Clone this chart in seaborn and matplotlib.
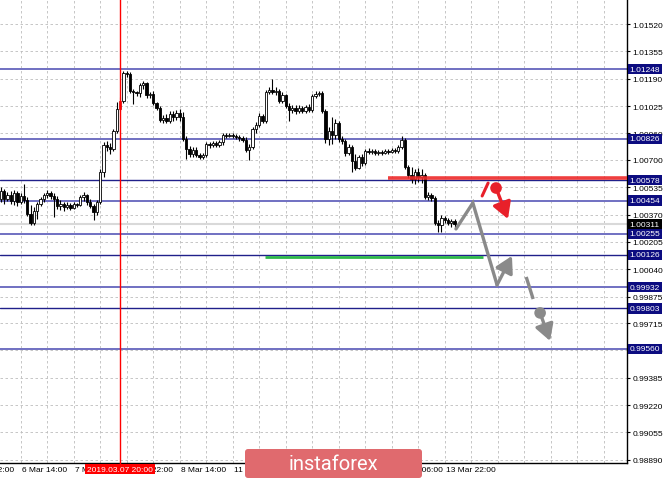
import numpy as np
import pandas as pd
import matplotlib
matplotlib.use("Agg")
import matplotlib.pyplot as plt
import matplotlib.transforms as mtransforms
from matplotlib.patches import FancyBboxPatch
from matplotlib.transforms import IdentityTransform
from matplotlib.ticker import MultipleLocator
import seaborn as sns

# =====================================
# Data (EURCHF H1, bars indexed from 5 Mar 22:00)
# =====================================

first_bar = 10

opens = [
    1.00464, 1.00512, 1.00464, 1.00488, 1.00452, 1.00500, 1.00446, 1.00482, 1.00458, 1.00373,
    1.00319, 1.00391, 1.00434, 1.00464, 1.00488, 1.00500, 1.00482, 1.00464, 1.00421, 1.00434,
    1.00415, 1.00428, 1.00409, 1.00434, 1.00428, 1.00476, 1.00488, 1.00446, 1.00421, 1.00385,
    1.00446, 1.00627, 1.00790, 1.00778, 1.00766, 1.00874, 1.01007, 1.01055, 1.01224, 1.01218,
    1.01116, 1.01110, 1.01104, 1.01152, 1.01164, 1.01092, 1.01098, 1.01043, 1.01013, 1.00941,
    1.00953, 1.00935, 1.00977, 1.00959, 1.00983, 1.00959, 1.00826, 1.00766, 1.00735, 1.00760,
    1.00729, 1.00717, 1.00729, 1.00796, 1.00790, 1.00802, 1.00790, 1.00808, 1.00850, 1.00844,
    1.00850, 1.00844, 1.00838, 1.00832, 1.00820, 1.00760, 1.00778, 1.00886, 1.00910, 1.00965,
    1.00935, 1.01110, 1.01122, 1.01110, 1.01116, 1.01055, 1.01092, 1.01025, 1.01001, 1.01013,
    1.00995, 1.01013, 1.00995, 1.01019, 1.01001, 1.01086, 1.01098, 1.01104, 1.00995, 1.00826,
    1.00874, 1.00850, 1.00922, 1.00826, 1.00814, 1.00741, 1.00778, 1.00693, 1.00651, 1.00717,
    1.00681, 1.00754, 1.00748, 1.00754, 1.00741, 1.00748, 1.00741, 1.00754, 1.00748, 1.00760,
    1.00754, 1.00778, 1.00820, 1.00657, 1.00609, 1.00585, 1.00627, 1.00597, 1.00609, 1.00476,
    1.00488, 1.00470, 1.00319, 1.00307, 1.00349, 1.00337, 1.00319, 1.00331,
]
highs = [
    1.00536, 1.00524, 1.00506, 1.00512, 1.00518, 1.00512, 1.00500, 1.00554, 1.00476, 1.00428,
    1.00415, 1.00446, 1.00476, 1.00500, 1.00518, 1.00512, 1.00500, 1.00482, 1.00458, 1.00446,
    1.00446, 1.00440, 1.00446, 1.00440, 1.00488, 1.00506, 1.00494, 1.00464, 1.00434, 1.00458,
    1.00645, 1.00808, 1.00814, 1.00802, 1.00886, 1.01049, 1.01079, 1.01236, 1.01236, 1.01230,
    1.01128, 1.01116, 1.01164, 1.01176, 1.01170, 1.01110, 1.01116, 1.01049, 1.01025, 1.00971,
    1.00977, 1.00995, 1.00995, 1.01001, 1.01007, 1.00989, 1.00844, 1.00784, 1.00778, 1.00778,
    1.00741, 1.00741, 1.00808, 1.00808, 1.00814, 1.00814, 1.00820, 1.00862, 1.00862, 1.00862,
    1.00862, 1.00856, 1.00850, 1.00844, 1.00838, 1.00796, 1.00898, 1.00929, 1.00983, 1.00977,
    1.01122, 1.01140, 1.01188, 1.01140, 1.01128, 1.01110, 1.01098, 1.01043, 1.01031, 1.01031,
    1.01031, 1.01025, 1.01031, 1.01037, 1.01098, 1.01116, 1.01116, 1.01116, 1.01007, 1.00898,
    1.00959, 1.00947, 1.00935, 1.00844, 1.00826, 1.00796, 1.00790, 1.00735, 1.00729, 1.00735,
    1.00766, 1.00772, 1.00766, 1.00766, 1.00760, 1.00760, 1.00766, 1.00766, 1.00772, 1.00772,
    1.00790, 1.00844, 1.00832, 1.00669, 1.00657, 1.00645, 1.00651, 1.00645, 1.00621, 1.00506,
    1.00500, 1.00482, 1.00337, 1.00367, 1.00361, 1.00349, 1.00343, 1.00343,
]
lows = [
    1.00446, 1.00434, 1.00452, 1.00434, 1.00428, 1.00421, 1.00434, 1.00440, 1.00361, 1.00307,
    1.00307, 1.00343, 1.00421, 1.00446, 1.00470, 1.00464, 1.00355, 1.00403, 1.00397, 1.00391,
    1.00403, 1.00397, 1.00403, 1.00415, 1.00421, 1.00452, 1.00428, 1.00409, 1.00337, 1.00367,
    1.00434, 1.00597, 1.00754, 1.00735, 1.00754, 1.00862, 1.00995, 1.01043, 1.01200, 1.01104,
    1.01037, 1.01086, 1.01079, 1.01128, 1.01073, 1.01073, 1.01031, 1.01001, 1.00929, 1.00922,
    1.00922, 1.00922, 1.00935, 1.00941, 1.00935, 1.00814, 1.00705, 1.00717, 1.00717, 1.00717,
    1.00705, 1.00705, 1.00717, 1.00772, 1.00778, 1.00778, 1.00778, 1.00790, 1.00832, 1.00838,
    1.00832, 1.00826, 1.00814, 1.00808, 1.00748, 1.00699, 1.00766, 1.00862, 1.00898, 1.00922,
    1.00922, 1.01098, 1.01098, 1.01092, 1.01043, 1.01043, 1.01013, 1.00935, 1.00983, 1.00977,
    1.00983, 1.00983, 1.00983, 1.00989, 1.00989, 1.01073, 1.01086, 1.00983, 1.00802, 1.00790,
    1.00796, 1.00826, 1.00808, 1.00796, 1.00723, 1.00729, 1.00627, 1.00639, 1.00645, 1.00663,
    1.00669, 1.00735, 1.00735, 1.00729, 1.00729, 1.00729, 1.00735, 1.00735, 1.00741, 1.00741,
    1.00741, 1.00766, 1.00645, 1.00591, 1.00560, 1.00554, 1.00566, 1.00560, 1.00464, 1.00458,
    1.00452, 1.00307, 1.00265, 1.00265, 1.00319, 1.00307, 1.00295, 1.00289,
]
closes = [
    1.00512, 1.00464, 1.00488, 1.00452, 1.00500, 1.00446, 1.00482, 1.00458, 1.00373, 1.00319,
    1.00391, 1.00434, 1.00464, 1.00488, 1.00500, 1.00482, 1.00464, 1.00421, 1.00434, 1.00415,
    1.00428, 1.00409, 1.00434, 1.00428, 1.00476, 1.00488, 1.00446, 1.00421, 1.00385, 1.00446,
    1.00627, 1.00790, 1.00778, 1.00766, 1.00874, 1.01007, 1.01055, 1.01224, 1.01218, 1.01116,
    1.01110, 1.01104, 1.01152, 1.01164, 1.01092, 1.01098, 1.01043, 1.01013, 1.00941, 1.00953,
    1.00935, 1.00977, 1.00959, 1.00983, 1.00959, 1.00826, 1.00766, 1.00735, 1.00760, 1.00729,
    1.00717, 1.00729, 1.00796, 1.00790, 1.00802, 1.00790, 1.00808, 1.00850, 1.00844, 1.00850,
    1.00844, 1.00838, 1.00832, 1.00820, 1.00760, 1.00778, 1.00886, 1.00910, 1.00965, 1.00935,
    1.01110, 1.01122, 1.01110, 1.01116, 1.01055, 1.01092, 1.01025, 1.01001, 1.01013, 1.00995,
    1.01013, 1.00995, 1.01019, 1.01001, 1.01086, 1.01098, 1.01104, 1.00995, 1.00826, 1.00874,
    1.00850, 1.00922, 1.00826, 1.00814, 1.00741, 1.00778, 1.00693, 1.00651, 1.00717, 1.00681,
    1.00754, 1.00748, 1.00754, 1.00741, 1.00748, 1.00741, 1.00754, 1.00748, 1.00760, 1.00754,
    1.00778, 1.00820, 1.00657, 1.00609, 1.00585, 1.00627, 1.00597, 1.00609, 1.00476, 1.00488,
    1.00470, 1.00319, 1.00307, 1.00349, 1.00337, 1.00319, 1.00331, 1.00311,
]

selected_bar = 46
selected_label = "2019.03.07 20:00"

light_levels = [1.01248, 1.00826, 1.00454, 1.00255, 0.99932, 0.99560]
dark_levels = [1.00578, 1.00126, 0.99803]
current_price = 1.00311

price_ticks = [1.01520, 1.01355, 1.01190, 1.01025, 1.00860, 1.00700, 1.00535, 1.00370,
               1.00205, 1.00040, 0.99875, 0.99715, 0.99550, 0.99385, 0.99220, 0.99055, 0.98890]

time_ticks = [0, 16, 32, 48, 64, 80, 96, 112, 128, 144]
time_labels = ["5 Mar 22:00", "6 Mar 14:00", "7 Mar 06:00", "7 Mar 22:00", "8 Mar 14:00",
               "11 Mar 06:00", "11 Mar 22:00", "12 Mar 14:00", "13 Mar 06:00", "13 Mar 22:00"]

# forecast drawings (bar, price)
gray_path_bars = [147.4, 152.5, 159.8]
gray_path_prices = [1.00283, 1.00440, 0.99945]
gray_up_end = (164.3, 1.00120)
gray_dash_bars = [168.6, 170.7]
gray_dash_prices = [0.99993, 0.99860]
gray_dot = (172.8, 0.99776)
gray_down_end = (175.8, 0.99607)

red_dash_bars = [155.3, 157.1]
red_dash_prices = [1.00482, 1.00560]
red_dot = (159.5, 1.00530)
red_down_end = (163.1, 1.00343)

red_level = (126.9, 1.00591)
green_level = (89.75, 155.6, 1.00114)

# =====================================
# Figure
# =====================================

sns.set_style("white")
plt.rcParams['font.family'] = ['Liberation Sans', 'DejaVu Sans']

W, H = 665, 481
fig = plt.figure(figsize=(W / 100, H / 100), dpi=100)
ax = fig.add_axes([0, 17 / H, 627 / W, 464 / H])

ax.set_xlim(9.75, 199.03)
ax.set_ylim(0.98870, 1.01671)

# grid
ax.set_yticks(price_ticks)
ax.set_yticklabels([f"{p:.5f}" for p in price_ticks])
ax.set_xticks([t for t in time_ticks if t > 9.75])
ax.set_xticklabels([])
ax.xaxis.set_minor_locator(MultipleLocator(8))
ax.grid(True, which="both", axis="x", color="#bdbdbd", lw=0.6, ls=(0, (3, 3)), zorder=0)
ax.grid(True, which="major", axis="y", color="#bdbdbd", lw=0.6, ls=(0, (3, 3)), zorder=0)

ax.yaxis.tick_right()
ax.tick_params(axis="y", which="major", length=2.5, width=0.8, pad=1.5, labelsize=6, colors="black")
ax.tick_params(axis="x", which="major", length=3, width=0.8, labelsize=6)
ax.tick_params(axis="x", which="minor", length=0)

for s in ["top", "left"]:
    ax.spines[s].set_visible(False)
for s in ["right", "bottom"]:
    ax.spines[s].set_color("black")
    ax.spines[s].set_linewidth(1.0)

# levels
for lv in light_levels:
    ax.axhline(lv, color="#7070c2", lw=1.4, zorder=1)
for lv in dark_levels:
    ax.axhline(lv, color="#20208a", lw=1.0, zorder=1)
ax.axhline(current_price, color="#d9d9d9", lw=1.5, zorder=1)

# candles
df = pd.DataFrame({"open": opens, "high": highs, "low": lows, "close": closes})
df["bar"] = np.arange(first_bar, first_bar + len(df))
up = df["close"] >= df["open"]
body_lo = np.minimum(df["open"], df["close"])
body_h = np.maximum(np.abs(df["close"] - df["open"]), 0.000025)
face = np.where(up, "white", "black")
edge = np.array(["black"] * len(df), dtype=object)
sel = df["bar"] == selected_bar
face[sel.values] = "#e00000"
edge[sel.values] = "#e00000"

ax.vlines(df["bar"], df["low"], df["high"], colors=list(edge), lw=0.8, zorder=3)
ax.bar(df["bar"], body_h, bottom=body_lo, width=0.7, color=face,
       edgecolor=list(edge), linewidth=0.6, zorder=4)

# selected bar marker
ax.axvline(selected_bar, ymin=-0.012, color="#ff0000", lw=1.0, zorder=5, clip_on=False)

# support / resistance segments
ax.hlines(red_level[1], red_level[0], 199.03, color="#ee2a2a", lw=2.6, alpha=0.9, zorder=5)
ax.hlines(green_level[2], green_level[0], green_level[1], color="#2eb84a", lw=2.0, zorder=5)

# forecast paths
gray = "#8a8a8a"
red = "#e8202a"
path = pd.DataFrame({"bar": gray_path_bars, "price": gray_path_prices})
sns.lineplot(data=path, x="bar", y="price", sort=False, estimator=None, color=gray,
             lw=2.4, ax=ax, zorder=6, solid_capstyle="round", solid_joinstyle="miter")
arrow = dict(arrowstyle="-|>,head_length=0.7,head_width=0.4", lw=2.4,
             shrinkA=0, shrinkB=0, mutation_scale=14)
ax.annotate("", xy=gray_up_end, xytext=(gray_path_bars[-1], gray_path_prices[-1]),
            arrowprops=dict(color=gray, **arrow), zorder=6)
ax.plot(gray_dash_bars, gray_dash_prices, color=gray, lw=2.4, zorder=6, solid_capstyle="butt")
ax.annotate("", xy=gray_down_end, xytext=gray_dot, arrowprops=dict(color=gray, **arrow), zorder=6)

ax.plot(red_dash_bars, red_dash_prices, color=red, lw=2.2, zorder=6)
ax.annotate("", xy=red_down_end, xytext=red_dot, arrowprops=dict(color=red, **arrow), zorder=6)

dots = pd.DataFrame({"bar": [gray_dot[0], red_dot[0]], "price": [gray_dot[1], red_dot[1]],
                     "kind": ["gray", "red"]})
sns.scatterplot(data=dots, x="bar", y="price", hue="kind", palette={"gray": gray, "red": red},
                s=70, edgecolor="none", legend=False, ax=ax, zorder=7)

ax.set_xlabel("")
ax.set_ylabel("")

# price boxes on the right axis
trans = mtransforms.blended_transform_factory(ax.transAxes, ax.transData)
for lv in light_levels + dark_levels:
    ax.text(1.0045, lv, f"{lv:.5f}", transform=trans, ha="left", va="center", fontsize=6,
            color="white", zorder=10, clip_on=False,
            bbox=dict(boxstyle="square,pad=0.2", facecolor="#0c0c80", edgecolor="none"))
ax.text(1.0045, current_price, f"{current_price:.5f}", transform=trans, ha="left", va="center",
        fontsize=6, color="white", zorder=11, clip_on=False,
        bbox=dict(boxstyle="square,pad=0.2", facecolor="black", edgecolor="none"))

# time labels
tx = mtransforms.blended_transform_factory(ax.transData, ax.transAxes)
for t, lab in zip(time_ticks, time_labels):
    ax.text(t + 0.3, -0.013, lab, transform=tx, ha="left", va="center", fontsize=6,
            color="black", clip_on=False, zorder=8)
ax.text(selected_bar, -0.013, selected_label, transform=tx, ha="center", va="center",
        fontsize=6, color="white", clip_on=False, zorder=12,
        bbox=dict(boxstyle="square,pad=0.2", facecolor="#ff0000", edgecolor="none"))

# watermark
wm = FancyBboxPatch((245, 2), 177, 29, boxstyle="round,pad=0,rounding_size=3",
                    transform=IdentityTransform(), facecolor="#e06a6e", edgecolor="none",
                    zorder=20)
fig.add_artist(wm)
fig.text(333.5 / W, 16.5 / H, "instaforex", ha="center", va="center", color="white",
         fontsize=14.5, family=["Roboto", "DejaVu Sans"], zorder=21)

fig.savefig("out.png", dpi=100)
